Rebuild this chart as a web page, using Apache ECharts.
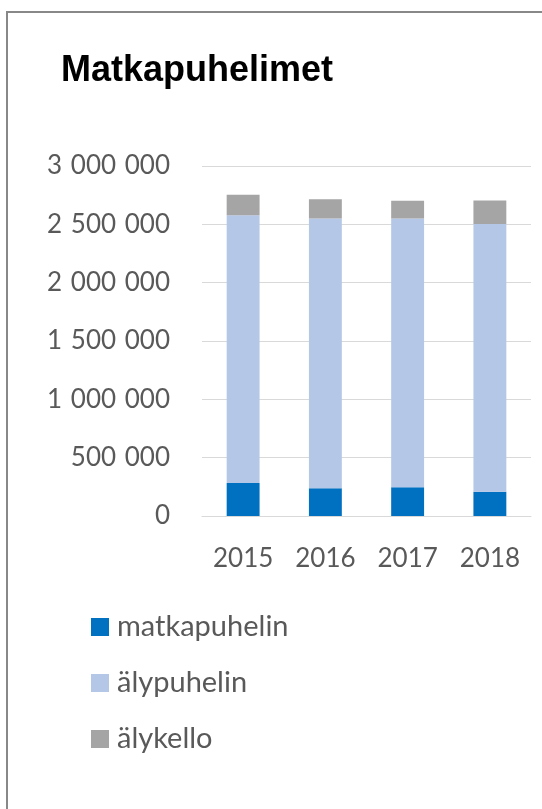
<!DOCTYPE html>
<html>
<head>
<meta charset="utf-8">
<script src="https://cdn.jsdelivr.net/npm/echarts@6/dist/echarts.min.js"></script>
<style>
html,body{margin:0;padding:0;background:#fff;}
#frame{position:absolute;left:6px;top:11px;width:560px;height:820px;border:2px solid #888;box-sizing:border-box;}
#c{position:absolute;left:0;top:0;width:542px;height:809px;}
</style>
</head>
<body>
<div id="frame"></div>
<div id="c"></div>
<script>
const title = 'Matkapuhelimet';
const years = ['2015', '2016', '2017', '2018'];
const matkapuhelin = [282000, 237000, 246000, 208000];
const alypuhelin = [2295000, 2312000, 2305000, 2295000];
const alykello = [177000, 165000, 152000, 202000];
const seriesNames = ['matkapuhelin', 'älypuhelin', 'älykello'];
const yMin = 0, yMax = 3000000, yStep = 500000;

function fmt(v) {
  return String(v).replace(/\B(?=(\d{3})+(?!\d))/g, '\u2004');
}

const chart = echarts.init(document.getElementById('c'), null, {renderer: 'canvas'});
const labelFont = {fontFamily: 'Lato', fontSize: 26, color: '#595959'};
chart.setOption({
  animation: false,
  backgroundColor: 'transparent',
  title: {
    text: title, left: 56, top: 48,
    textStyle: {fontFamily: 'Liberation Sans', fontWeight: 'bold', fontSize: 36, color: '#000'}
  },
  grid: {left: 202, right: 11, top: 166, bottom: 293, containLabel: false},
  legend: {
    orient: 'vertical', left: 91, top: 612, padding: 0,
    itemWidth: 18, itemHeight: 18, itemGap: 26,
    icon: 'rect',
    textStyle: {fontFamily: 'Lato', fontSize: 29, color: '#595959', lineHeight: 30, padding: [0, 0, 0, 3]},
    data: seriesNames
  },
  xAxis: {
    type: 'category', data: years,
    axisLine: {lineStyle: {color: '#D9D9D9', width: 1}},
    axisTick: {show: false},
    axisLabel: Object.assign({margin: 30}, labelFont)
  },
  yAxis: {
    type: 'value', min: yMin, max: yMax, interval: yStep,
    axisLine: {show: false}, axisTick: {show: false},
    splitLine: {lineStyle: {color: '#D9D9D9', width: 1}},
    axisLabel: Object.assign({margin: 32, formatter: fmt}, labelFont)
  },
  series: [
    {name: seriesNames[0], type: 'bar', stack: 'a', data: matkapuhelin, barWidth: '40%', itemStyle: {color: '#0070C0'}},
    {name: seriesNames[1], type: 'bar', stack: 'a', data: alypuhelin, itemStyle: {color: '#B4C7E7'}},
    {name: seriesNames[2], type: 'bar', stack: 'a', data: alykello, itemStyle: {color: '#A5A5A5'}}
  ]
});
</script>
</body>
</html>
